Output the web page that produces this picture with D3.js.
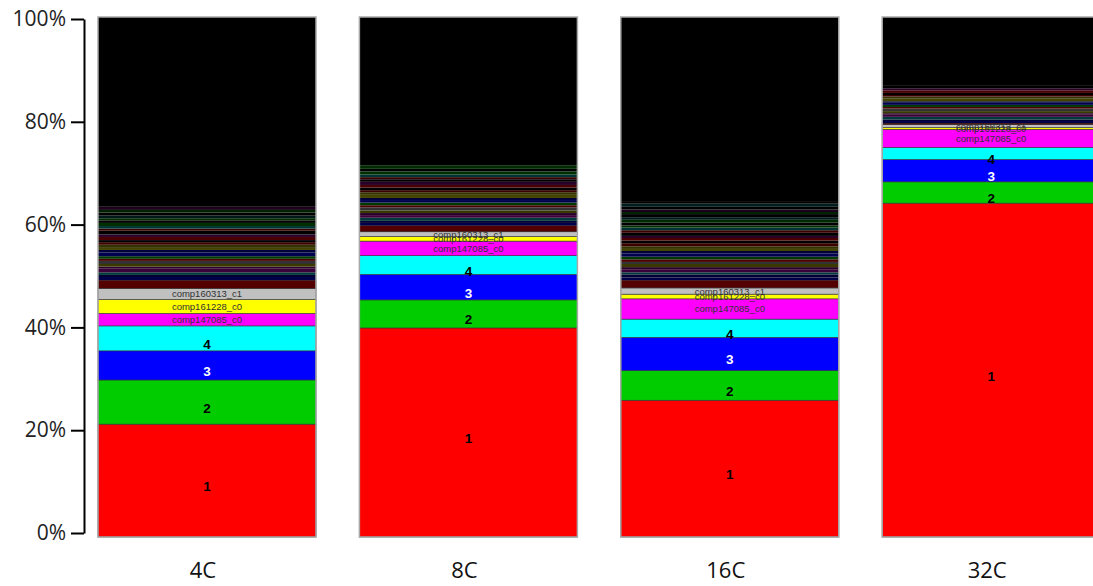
<!DOCTYPE html>
<html><head><meta charset="utf-8">
<script src="https://cdn.jsdelivr.net/npm/d3@7"></script>
<style>body{margin:0;background:#fff}svg{display:block}</style>
</head><body>
<svg id="c" width="1093" height="586"></svg>
<script>
// ---- data ----
const categories = ["4C", "8C", "16C", "32C"];
const seriesNames = ["1", "2", "3", "4", "comp147085_c0", "comp161228_c0", "comp160313_c1", "other_major"];
const seriesColors = ["#ff0000", "#00cc00", "#0000ff", "#00ffff", "#ff00ff", "#ffff00", "#c0c0c0", "#550000"];
const seriesLabelColors = ["#000", "#000", "#fff", "#000", "#333", "#333", "#333", null];
const series1 = [21.7, 40.2, 26.3, 64.2];
const series2 = [8.5, 5.4, 5.7, 4.1];
const series3 = [5.6, 4.9, 6.4, 4.3];
const series4 = [4.8, 3.6, 3.5, 2.3];
const comp147085 = [2.4, 2.8, 3.9, 3.5];
const comp161228 = [2.7, 0.9, 0.9, 0.35];
const comp160313 = [2.1, 0.9, 1.2, 0.55];
const otherMajor = [1.6, 1.2, 1.5, 0.3];
const minor4C = [0.6,0.4,0.5,0.7,0.4,0.5,0.6,0.4,0.5,0.7,0.5,0.4,0.6,0.5,0.4,0.6,0.5,0.7,0.4,0.5,0.6,0.5,0.4,0.5,0.6,0.5,0.6];
const minor8C = [0.5,0.4,0.6,0.5,0.4,0.5,0.6,0.4,0.5,0.5,0.4,0.6,0.5,0.4,0.5,0.5,0.6,0.5,0.4,0.5,0.6,0.5,0.7];
const minor16C = [0.5,0.6,0.4,0.5,0.5,0.6,0.4,0.5,0.5,0.6,0.5,0.4,0.5,0.6,0.5,0.5,0.4,0.6,0.5,0.5,0.4,0.6,0.5,0.5,0.6,0.4,0.5,0.5,0.6,0.5];
const minor32C = [0.4,0.3,0.5,0.4,0.3,0.4,0.5,0.3,0.4,0.4,0.3,0.5,0.4,0.3,0.4,0.5,0.4,0.6];
const minorPalette = ["#000048","#000034","#003a3a","#3a003a","#2a002a","#3a3a00","#333333","#4a0000","#003a00","#000050","#00003a","#444400","#333300","#3a0000","#000000","#4a0000","#280028","#000000","#3a0000","#003434","#003000","#000000","#002a00","#001a1a","#000000","#002200","#1a001a","#000000","#001c1c","#000000"];
const yTicks = [0, 20, 40, 60, 80, 100];

const majorValues = [series1, series2, series3, series4, comp147085, comp161228, comp160313, otherMajor];
const minorValues = [minor4C, minor8C, minor16C, minor32C];

// ---- chart ----
const svg = d3.select("#c");
const x = d3.scaleBand().domain(categories).range([98, 1100.2]).paddingInner(0.166).paddingOuter(0);
const yBar = d3.scaleLinear().domain([0, 100]).range([537, 17]);
const yAxis = d3.scaleLinear().domain([0, 100]).range([533, 19]);

categories.forEach((cat, ci) => {
  const g = svg.append("g");
  const x0 = x(cat), w = x.bandwidth();
  let cum = 0;
  const segs = [];
  majorValues.forEach((arr, si) => {
    segs.push({lo: cum, hi: cum + arr[ci], color: seriesColors[si], name: seriesNames[si], labelColor: seriesLabelColors[si], major: true});
    cum += arr[ci];
  });
  minorValues[ci].forEach((v, k) => {
    segs.push({lo: cum, hi: cum + v, color: minorPalette[k % minorPalette.length], major: false});
    cum += v;
  });
  segs.push({lo: cum, hi: 100, color: "#000000", major: false});

  g.selectAll("rect.seg").data(segs).join("rect")
    .attr("class", "seg")
    .attr("x", x0).attr("width", w)
    .attr("y", d => yBar(d.hi)).attr("height", d => yBar(d.lo) - yBar(d.hi))
    .attr("fill", d => d.color)
    .attr("stroke", d => d.major ? "#333" : "none")
    .attr("stroke-width", 0.6);

  // outer border
  g.append("rect").attr("x", x0).attr("y", yBar(100)).attr("width", w)
    .attr("height", yBar(0) - yBar(100))
    .attr("fill", "none").attr("stroke", "#a8a8a8").attr("stroke-width", 1.5);

  // labels
  segs.filter(d => d.major && d.labelColor).forEach((d, si) => {
    const big = si < 4;
    const mid = (yBar(d.lo) + yBar(d.hi)) / 2;
    g.append("text")
      .attr("x", x0 + w / 2)
      .attr("y", big ? mid + 6 : mid)
      .attr("text-anchor", "middle")
      .attr("dominant-baseline", "central")
      .attr("font-family", "Liberation Sans, Arial, sans-serif")
      .attr("font-weight", big ? "bold" : "normal")
      .attr("font-size", big ? 13.5 : 9.5)
      .attr("fill", d.labelColor)
      .text(d.name);
  });

  // category label
  svg.append("text")
    .attr("x", x0 + w / 2 - 4).attr("y", 578)
    .attr("text-anchor", "middle")
    .attr("font-family", "Open Sans, sans-serif")
    .attr("font-size", 22)
    .attr("fill", "#111")
    .text(cat);
});

// y axis
const axis = d3.axisLeft(yAxis).tickValues(yTicks).tickFormat(d => d + "%").tickSize(13).tickSizeOuter(0);
const ag = svg.append("g").attr("transform", "translate(84,0)").call(axis);
ag.select(".domain").attr("stroke", "#000").attr("stroke-width", 2);
ag.selectAll(".tick line").attr("stroke", "#000").attr("stroke-width", 2);
ag.selectAll(".tick text").attr("font-family", "Open Sans, sans-serif").attr("font-size", 21)
  .attr("fill", "#222").attr("x", -18);
</script>
</body></html>
